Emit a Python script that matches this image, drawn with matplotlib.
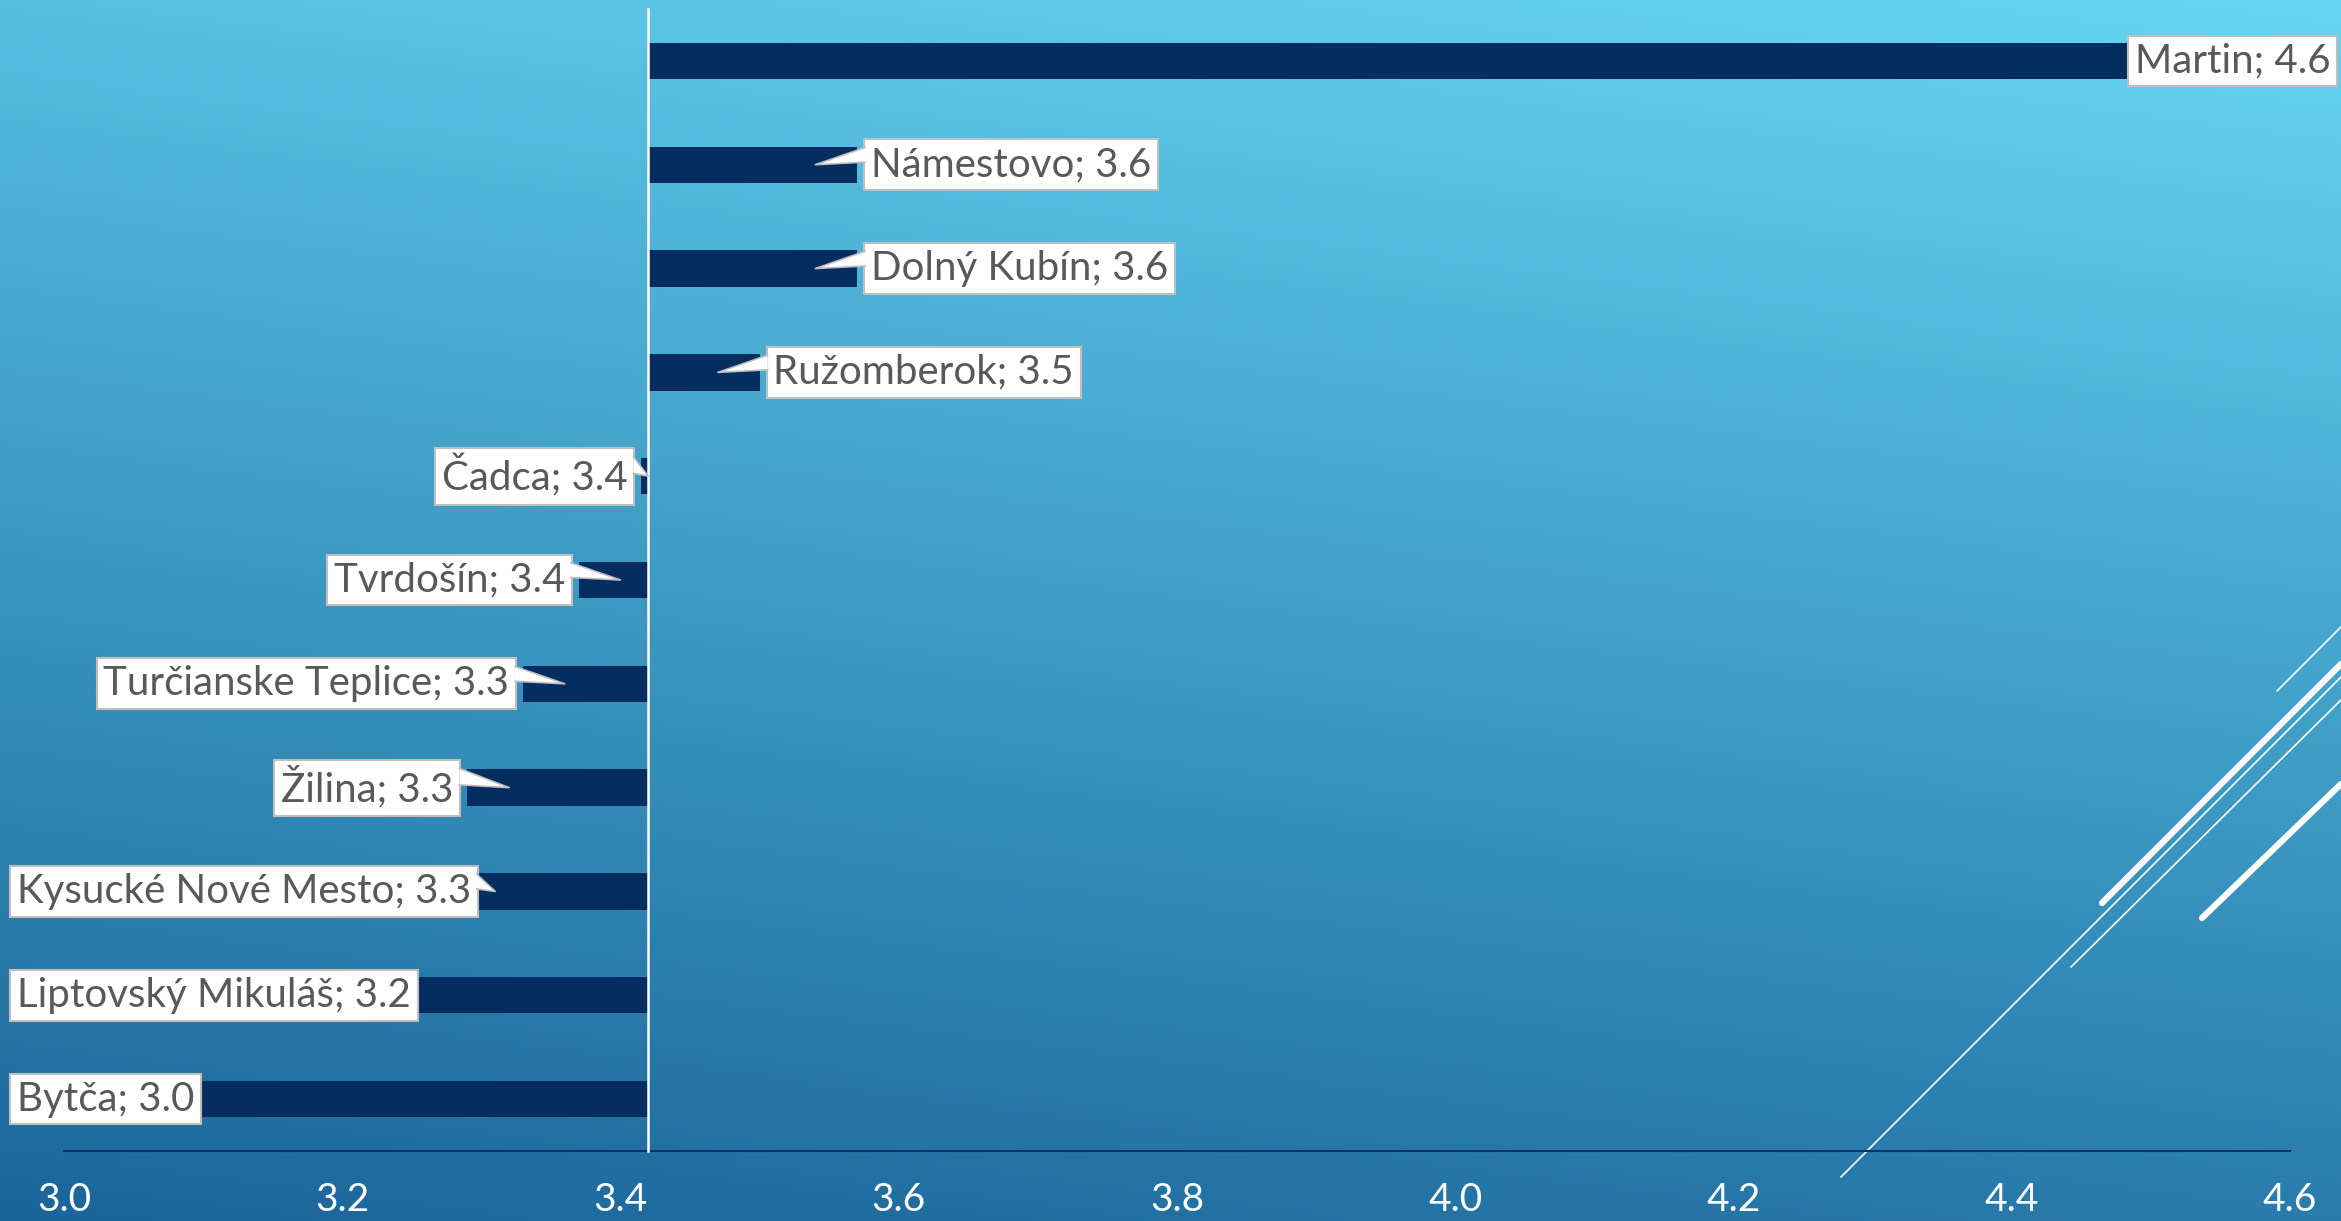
import numpy as np
import matplotlib
matplotlib.use("Agg")
import matplotlib.pyplot as plt
from matplotlib.patches import Polygon
from matplotlib.colors import to_rgb

# ---------------------------------------------------------
# data
# ---------------------------------------------------------
districts = ["Martin", "Námestovo", "Dolný Kubín", "Ružomberok", "Čadca",
             "Tvrdošín", "Turčianske Teplice", "Žilina",
             "Kysucké Nové Mesto", "Liptovský Mikuláš", "Bytča"]
scores = [4.58, 3.57, 3.57, 3.50, 3.415, 3.37, 3.33, 3.29, 3.28, 3.22, 3.03]
base_value = 3.42          # value axis crosses here
x_ticks = [3.0, 3.2, 3.4, 3.6, 3.8, 4.0, 4.2, 4.4, 4.6]

W, H, DPI = 2341, 1221, 100
plt.rcParams['font.family'] = ['Lato', 'DejaVu Sans']

fig = plt.figure(figsize=(W / DPI, H / DPI), dpi=DPI)

# ---------------------------------------------------------
# background gradient + decoration
# ---------------------------------------------------------
bg = fig.add_axes([0, 0, 1, 1], zorder=0)
bg.axis('off')
yy, xx = np.mgrid[0:1:300j, 0:1:300j]
t = 0.8 * yy + 0.2 * xx
c0 = np.array(to_rgb('#1a659a'))
c1 = np.array(to_rgb('#65d6f2'))
img = c0[None, None, :] + t[:, :, None] * (c1 - c0)[None, None, :]
bg.imshow(img, origin='lower', extent=[0, 1, 0, 1], aspect='auto')
bg.set_xlim(0, 1)
bg.set_ylim(0, 1)

# decorative diagonal strokes (pixel coords, y from top)
deco = [((1841, 1177), (2341, 677), 1.2),
        ((2102, 903), (2341, 664), 4.5),
        ((2071, 967), (2341, 700), 1.2),
        ((2202, 918), (2341, 784), 4.5),
        ((2277, 691), (2341, 627), 1.2)]
for (xa, ya), (xb, yb), lw in deco:
    bg.plot([xa / W, xb / W], [1 - ya / H, 1 - yb / H], color='white',
            lw=lw, solid_capstyle='round')

# ---------------------------------------------------------
# bars
# ---------------------------------------------------------
ax = fig.add_axes([64 / W, 70 / H, 2226 / W, 1142 / H], zorder=1)
ax.patch.set_alpha(0)
ypos = np.arange(len(districts))
vals = np.array(scores)
ax.barh(ypos, vals - base_value, left=base_value, height=0.35,
        color='#052d5f', zorder=2)

ax.set_xlim(3.0, 4.6)
ax.set_ylim(len(districts) - 0.5, -0.5)
ax.set_yticks([])
ax.set_xticks(x_ticks)
ax.set_xticklabels([f"{v:.1f}" for v in x_ticks])
ax.tick_params(axis='x', length=0, pad=22, labelsize=28, colors='white')
for s in ['top', 'right']:
    ax.spines[s].set_visible(False)
ax.spines['bottom'].set_color('#0a3466')
ax.spines['bottom'].set_linewidth(1.5)
ax.spines['left'].set_position(('data', base_value))
ax.spines['left'].set_color('white')
ax.spines['left'].set_linewidth(1.8)
ax.spines['left'].set_zorder(3)

# ---------------------------------------------------------
# callout labels
# ---------------------------------------------------------
anns = []
for i, (name, v) in enumerate(zip(districts, scores)):
    a = ax.annotate(f"{name}; {v:.1f}", xy=(v, i), xytext=(0, 0),
                    textcoords='offset points', va='center',
                    ha='left' if v >= base_value else 'right',
                    fontsize=29, color='#595959', zorder=5,
                    bbox=dict(boxstyle='square,pad=0.17', fc='white',
                              ec='#bfbfbf', lw=1.5))
    anns.append(a)

gap, left_margin, right_margin = 7, 10, 4
fig.canvas.draw()
for a, v, i in zip(anns, scores, ypos):
    bb = a.get_bbox_patch().get_window_extent()
    end_px = ax.transData.transform((v, i))[0]
    if v >= base_value:
        dx = (end_px + gap) - bb.x0
    else:
        dx = (end_px - gap) - bb.x1
    if bb.x1 + dx > W - right_margin:
        dx -= bb.x1 + dx - (W - right_margin)
    if bb.x0 + dx < left_margin:
        dx += left_margin - (bb.x0 + dx)
    a.xyann = (a.xyann[0] + dx * 72 / DPI, a.xyann[1])
fig.canvas.draw()

inv = ax.transData.inverted()
unit_px = ax.transData.transform((3.03, 0))[0] - ax.transData.transform((3.0, 0))[0]
base_px = ax.transData.transform((base_value, 0))[0]
for a, v, i in zip(anns, scores, ypos):
    bb = a.get_bbox_patch().get_window_extent()
    end_px, yc = ax.transData.transform((v, i))
    h = bb.y1 - bb.y0
    length = abs(base_px - end_px)
    if v >= base_value:
        tip = end_px - min(unit_px, length)
        if tip >= bb.x0:
            continue
        edge = bb.x0 + 1
    else:
        tip = end_px + min(unit_px, length)
        if tip <= bb.x1:
            continue
        edge = bb.x1 - 1
    pts = [(edge, bb.y1 - 0.16 * h), (tip, yc), (edge, bb.y1 - 0.45 * h)]
    pts_d = inv.transform(pts)
    ax.add_patch(Polygon(pts_d, closed=True, fc='white', ec='none',
                         zorder=6, clip_on=False))
    ax.plot(pts_d[:, 0], pts_d[:, 1], color='#bfbfbf', lw=1.2, zorder=6,
            clip_on=False)

fig.savefig("out.png", dpi=DPI)
